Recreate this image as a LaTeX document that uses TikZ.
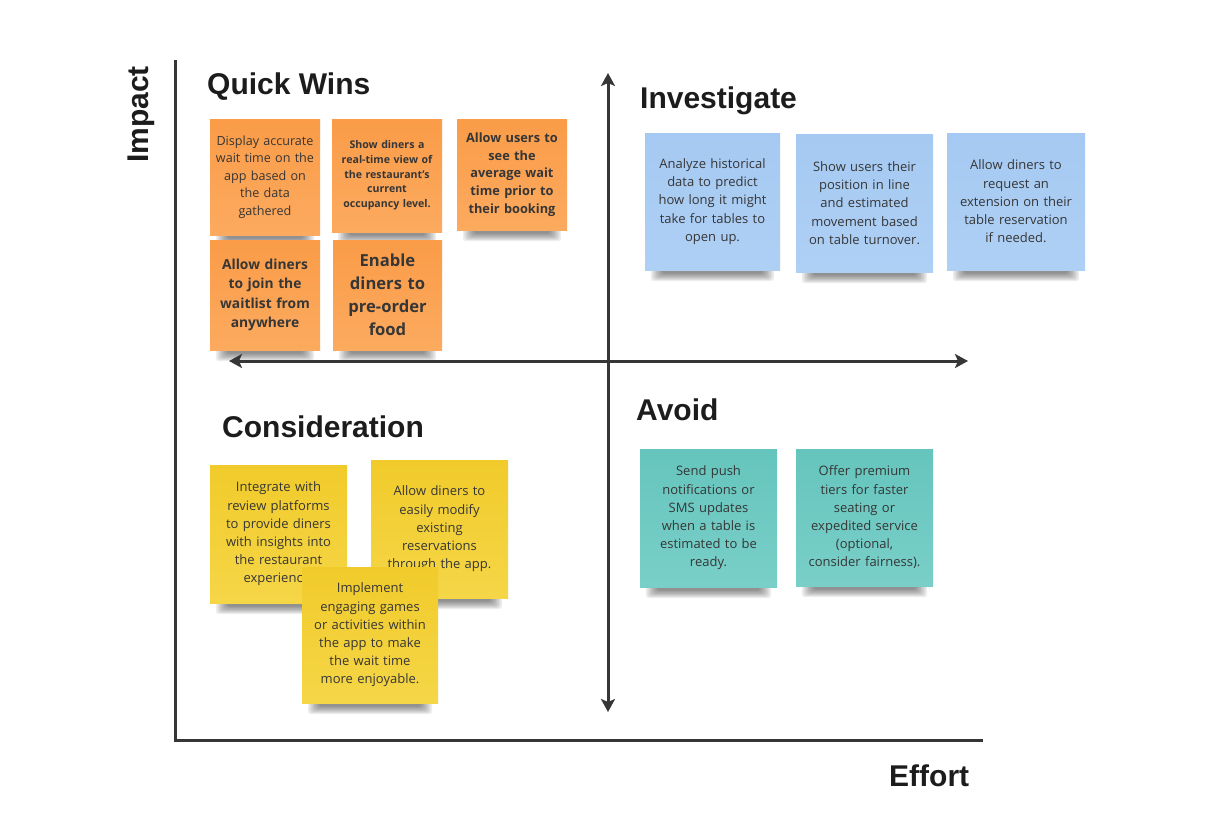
\documentclass[tikz,border=0pt]{standalone}
\usepackage{fontspec}
\setmainfont{Open Sans}
\newfontfamily\headfont{Liberation Sans}
\usetikzlibrary{arrows.meta,backgrounds}
\definecolor{ink}{HTML}{363636}
\definecolor{headink}{HTML}{1C1C1C}
\definecolor{oTop}{HTML}{FA9C48}
\definecolor{oBot}{HTML}{FCAA5F}
\definecolor{bTop}{HTML}{A5C9F2}
\definecolor{bBot}{HTML}{AFD0F5}
\definecolor{tTop}{HTML}{65C5BD}
\definecolor{tBot}{HTML}{79CFC8}
\definecolor{yTop}{HTML}{F1CB2B}
\definecolor{yBot}{HTML}{F5D647}
\tikzset{
  note/.style={inner sep=0pt, align=center, text=ink, text width=#1},
  note/.default=130pt,
  orangenote/.style={top color=oTop, bottom color=oBot},
  bluenote/.style={top color=bTop, bottom color=bBot},
  tealnote/.style={top color=tTop, bottom color=tBot},
  yellownote/.style={top color=yTop, bottom color=yBot},
  shadowlayer/.style={black, opacity=0.065, rounded corners=3pt},
  head/.style={inner sep=0pt, text=headink, font=\headfont\bfseries\fontsize{30}{34}\selectfont},
  small/.style={font=\fontsize{12.6}{17.4}\selectfont},
  body/.style={font=\fontsize{13}{18.2}\selectfont},
  axisline/.style={draw=ink, line width=3pt},
  dblarrow/.style={draw=ink, line width=3pt, {Stealth[length=13pt,width=14pt,inset=3pt]}-{Stealth[length=13pt,width=14pt,inset=3pt]}},
}
\newcommand\notesh[1]{%
  \foreach \i in {0,...,7}{%
    \fill[shadowlayer] ([xshift={6pt+1.6pt*\i}, yshift=10pt]#1.south west) rectangle ([xshift={-6pt-1.6pt*\i}, yshift={-11pt+1.1pt*\i}]#1.south east);
  }}
\begin{document}
\begin{tikzpicture}[x=1pt,y=-1pt]
\useasboundingbox (0,0) rectangle (1225,815);
\begin{pgfonlayer}{background}
\fill[white] (0,0) rectangle (1225,815);
\end{pgfonlayer}

% axes
\coordinate (axtop) at (175,60);
\coordinate (axorig) at (175,740);
\coordinate (axright) at (983,740);
\draw[axisline, line cap=butt] (axtop) -- (axorig) -- (axright);

% headings
\node[head, rotate=90, anchor=base west] (impact) at (148,163) {Impact};
\node[head, anchor=base west] (effort) at (889,786) {Effort};
\node[head, anchor=base west] (qw) at (207,94) {Quick Wins};
\node[head, anchor=base west] (inv) at (640,108) {Investigate};
\node[head, anchor=base west] (cons) at (222,437) {Consideration};
\node[head, anchor=base west] (avoid) at (636,420) {Avoid};

% orange notes
\node[note=104pt, orangenote, small, minimum width=110pt, minimum height=116pt] (o1) at (265,177)
  {Display accurate\\wait time on the\\app based on\\the data\\gathered};
\node[note=108pt, orangenote, font=\bfseries\fontsize{10.6}{14.7}\selectfont, minimum width=110pt, minimum height=113pt] (o2) at (387,175.5)
  {Show diners a\\real-time view of\\the restaurant's\\current\\occupancy level.};
\node[note=108pt, orangenote, font=\bfseries\fontsize{12.8}{17.8}\selectfont, minimum width=110pt, minimum height=111pt] (o3) at (512,174.5)
  {Allow users to\\see the\\average wait\\time prior to\\their booking};
\node[note=108pt, orangenote, font=\bfseries\fontsize{13.8}{19.4}\selectfont, minimum width=110pt, minimum height=110pt] (o4) at (265,295)
  {Allow diners\\to join the\\waitlist from\\anywhere};
\node[note=108pt, orangenote, font=\bfseries\fontsize{16.6}{23}\selectfont, minimum width=109pt, minimum height=110pt] (o5) at (387.5,295)
  {Enable\\diners to\\pre-order\\food};

% blue notes
\node[note, bluenote, body, minimum width=135pt, minimum height=137pt] (b1) at (712.5,201.5)
  {Analyze historical\\data to predict\\how long it might\\take for tables to\\open up.};
\node[note, bluenote, body, minimum width=137pt, minimum height=138pt] (b2) at (864.5,203)
  {Show users their\\position in line\\and estimated\\movement based\\on table turnover.};
\node[note, bluenote, body, minimum width=138pt, minimum height=137pt] (b3) at (1016,201.5)
  {Allow diners to\\request an\\extension on their\\table reservation\\if needed.};

% teal notes
\node[note, tealnote, body, minimum width=137pt, minimum height=138pt] (t1) at (708.5,518)
  {Send push\\notifications or\\SMS updates\\when a table is\\estimated to be\\ready.};
\node[note, tealnote, body, minimum width=137pt, minimum height=137pt] (t2) at (864.5,517.5)
  {Offer premium\\tiers for faster\\seating or\\expedited service\\(optional,\\consider fairness).};

% yellow notes
\node[note, yellownote, body, minimum width=137pt, minimum height=138pt] (y1) at (278.5,534)
  {Integrate with\\review platforms\\to provide diners\\with insights into\\the restaurant\\experience.};
\node[note, yellownote, body, minimum width=137pt, minimum height=138pt] (y2) at (439.5,529)
  {Allow diners to\\easily modify\\existing\\reservations\\through the app.};
\node[note, yellownote, body, minimum width=136pt, minimum height=136pt] (y3) at (370,635)
  {Implement\\engaging games\\or activities within\\the app to make\\the wait time\\more enjoyable.};

% note shadows
\begin{pgfonlayer}{background}
\foreach \n in {o1,o2,o3,o4,o5,b1,b2,b3,t1,t2,y1,y2,y3}{\notesh{\n}}
\end{pgfonlayer}

% quadrant arrows
\coordinate (vtop) at (608,73);
\coordinate (vbot) at (608,712);
\coordinate (hleft) at (229,361);
\coordinate (hright) at (968,361);
\draw[dblarrow] (vtop) -- (vbot);
\draw[dblarrow] (hleft) -- (hright);
\end{tikzpicture}
\end{document}
